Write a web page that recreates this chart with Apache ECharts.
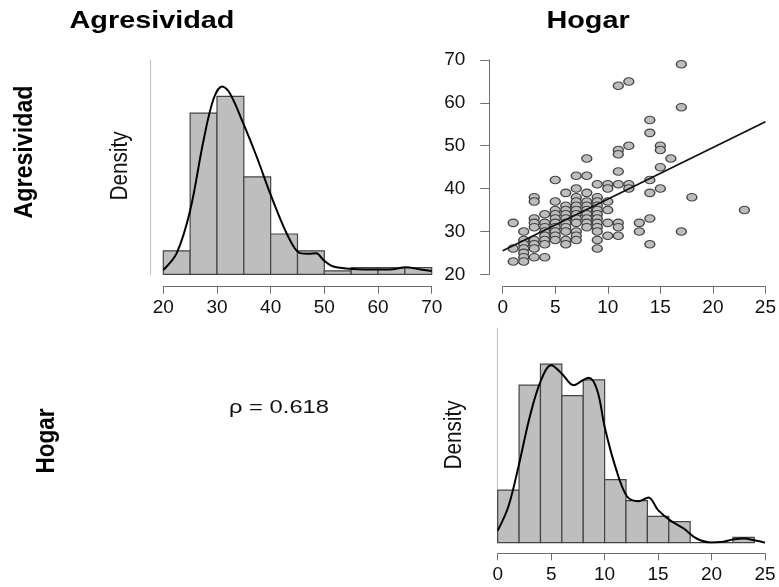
<!DOCTYPE html>
<html>
<head>
<meta charset="utf-8">
<script src="https://cdn.jsdelivr.net/npm/echarts@6/dist/echarts.min.js"></script>
<style>
html,body{margin:0;padding:0;background:#fff;}
#chart{width:779px;height:587px;}
</style>
</head>
<body>
<div id="chart"></div>
<script>
// ---------- DATA ----------
// Agresividad histogram (bin edges, counts)
const agrBinEdges = [20, 25, 30, 35, 40, 45, 50, 55, 60, 65, 70];
const agrCounts = [7, 48, 53, 29, 12, 7, 1, 2, 2, 2];
// Agresividad density curve (scaled to histogram count units)
const agrCurveX = [20, 22.5, 25, 27.5, 29.4, 31, 32.4, 34.9, 37.4, 39.9, 42.4, 44.3, 45.5, 47, 48.5, 49.8, 51.7, 55.2, 60.2, 62.7, 65.2, 67.7, 70];
const agrCurveY = [1.3, 6.3, 19.0, 39.9, 52.4, 55.9, 53.9, 44.9, 35.0, 24.1, 14.2, 8.2, 6.3, 6.1, 6.3, 4.3, 2.3, 1.6, 1.4, 1.5, 2.1, 1.5, 1.0];

// Hogar histogram
const hogBinEdges = [0, 2, 4, 6, 8, 10, 12, 14, 16, 18, 20, 22, 24];
const hogCounts = [10, 30, 34, 28, 31, 12, 8, 5, 4, 0, 0, 1];
// Hogar density curve (scaled to histogram count units)
const hogCurveX = [0, 1, 2, 3, 4, 5, 6, 7.1, 8, 8.5, 9.3, 10, 11, 12.1, 13.2, 14.1, 15, 16.1, 17.4, 18.6, 19.9, 21.1, 22, 23, 24.1, 25];
const hogCurveY = [2.3, 6.9, 15.0, 24.0, 30.7, 33.8, 32.2, 30.0, 31.0, 31.4, 29.1, 22.1, 14.5, 8.8, 7.9, 8.6, 6.2, 4.3, 2.7, 0.8, 0.05, 0.2, 0.6, 0.8, 0.4, 0.0];

// Scatter: Hogar (x) vs Agresividad (y)
const hogarX = [
  1,1,1,
  2,2,2,2,2,2,2,
  3,3,3,3,3,3,3,3,3,
  4,4,4,4,4,4,4,4,
  5,5,5,5,5,5,5,5,5,5,
  6,6,6,6,6,6,6,6,6,6,
  7,7,7,7,7,7,7,7,7,7,7,7,
  8,8,8,8,8,8,8,8,8,8,
  9,9,9,9,9,9,9,9,9,9,9,9,
  10,10,10,10,10,10,
  11,11,11,11,11,11,11,11,
  12,12,12,12,
  13,13,
  14,14,14,14,14,14,
  15,15,15,15,
  16,
  17,17,17,
  18,
  23
];
const agresY = [
  32,26,23,
  30,28,27,26,25,24,23,
  38,37,33,32,31,28,27,26,24,
  34,32,31,30,29,28,27,24,
  42,37,35,34,33,32,31,30,29,28,
  39,36,35,34,33,32,31,30,28,27,
  43,40,38,37,36,35,34,33,32,30,29,28,
  47,43,39,37,36,35,34,33,32,31,
  41,38,37,36,35,34,33,32,31,30,28,26,
  41,40,37,35,32,29,
  64,49,48,44,41,32,31,29,
  65,50,41,40,
  32,30,
  56,53,42,39,33,27,
  50,49,45,40,
  47,
  69,59,30,
  38,
  35
];
// Regression line endpoints
const regX = [0, 25];
const regY = [25.5, 55.6];

const rhoLabel = 'ρ = 0.618';
const varNames = ['Agresividad', 'Hogar'];

// ---------- CHART ----------
const chart = echarts.init(document.getElementById('chart'), null, {renderer: 'canvas'});

function binData(edges, counts) {
  return counts.map((c, i) => [edges[i], edges[i + 1], c]);
}
function zip(a, b) { return a.map((v, i) => [v, b[i]]); }

const barStyle = {fill: '#bebebe', stroke: '#444', lineWidth: 1.2};
function histRender(params, api) {
  const p0 = api.coord([api.value(0), api.value(2)]);
  const p1 = api.coord([api.value(1), 0]);
  return {
    type: 'rect',
    shape: {x: p0[0], y: p0[1], width: p1[0] - p0[0], height: p1[1] - p0[1]},
    style: barStyle
  };
}

const tickFont = {fontFamily: 'Liberation Sans', fontSize: 19, color: '#111'};
const axisGray = '#6e6e6e';

function xAxisDef(gi, min, max, interval, offset) {
  return {
    gridIndex: gi, type: 'value', min: min, max: max, interval: interval,
    offset: offset,
    axisLine: {show: true, onZero: false, lineStyle: {color: axisGray, width: 1}},
    axisTick: {show: true, length: 7, lineStyle: {color: axisGray, width: 1}},
    axisLabel: Object.assign({margin: 12}, tickFont),
    splitLine: {show: false}
  };
}
function densityYAxis(gi, max, offset) {
  return {
    gridIndex: gi, type: 'value', min: 0, max: max, offset: offset,
    axisLine: {show: true, lineStyle: {color: '#c4c4c4', width: 1.2}},
    axisTick: {show: false}, axisLabel: {show: false}, splitLine: {show: false}
  };
}

const option = {
  animation: false,
  backgroundColor: '#fff',
  grid: [
    {left: 163.3, top: 60, width: 268.4, height: 214.3},
    {left: 502.7, top: 60, width: 263, height: 214.3},
    {left: 497.7, top: 328, width: 267.3, height: 214.7}
  ],
  xAxis: [
    xAxisDef(0, 20, 70, 10, 12.4),
    xAxisDef(1, 0, 25, 5, 12.4),
    xAxisDef(2, 0, 25, 5, 10.6)
  ],
  yAxis: [
    densityYAxis(0, 63.8, 13.3),
    {
      gridIndex: 1, type: 'value', min: 20, max: 70, interval: 10, offset: 13.4,
      axisLine: {show: true, onZero: false, lineStyle: {color: axisGray, width: 1}},
      axisTick: {show: true, length: 9, lineStyle: {color: axisGray, width: 1}},
      axisLabel: Object.assign({margin: 24}, tickFont),
      splitLine: {show: false}
    },
    densityYAxis(2, 40.9, 13.7)
  ],
  series: [
    {
      type: 'custom', xAxisIndex: 0, yAxisIndex: 0,
      renderItem: histRender, encode: {x: [0, 1], y: 2},
      data: binData(agrBinEdges, agrCounts), silent: true
    },
    {
      type: 'line', xAxisIndex: 0, yAxisIndex: 0, smooth: 0.35,
      showSymbol: false, symbol: 'none',
      lineStyle: {color: '#000', width: 2},
      data: zip(agrCurveX, agrCurveY), silent: true
    },
    {
      type: 'scatter', xAxisIndex: 1, yAxisIndex: 1,
      symbol: 'circle', symbolSize: [10, 7.5],
      itemStyle: {color: '#bdbdbd', borderColor: '#444', borderWidth: 1.2, opacity: 1},
      data: zip(hogarX, agresY), silent: true
    },
    {
      type: 'line', xAxisIndex: 1, yAxisIndex: 1,
      showSymbol: false, symbol: 'none',
      lineStyle: {color: '#111', width: 1.8},
      data: zip(regX, regY), silent: true, z: 5
    },
    {
      type: 'custom', xAxisIndex: 2, yAxisIndex: 2,
      renderItem: histRender, encode: {x: [0, 1], y: 2},
      data: binData(hogBinEdges, hogCounts), silent: true
    },
    {
      type: 'line', xAxisIndex: 2, yAxisIndex: 2, smooth: 0.35,
      showSymbol: false, symbol: 'none',
      lineStyle: {color: '#000', width: 2},
      data: zip(hogCurveX, hogCurveY), silent: true
    }
  ],
  graphic: [
    {type: 'text', x: 152, y: 21, scaleX: 1.2,
     style: {text: varNames[0], font: 'bold 24px "Liberation Sans"', fill: '#000', align: 'center', verticalAlign: 'middle'}},
    {type: 'text', x: 588, y: 21, scaleX: 1.2,
     style: {text: varNames[1], font: 'bold 24px "Liberation Sans"', fill: '#000', align: 'center', verticalAlign: 'middle'}},
    {type: 'text', x: 25, y: 152, rotation: Math.PI / 2, scaleX: 0.93,
     style: {text: varNames[0], font: 'bold 25px "Liberation Sans"', fill: '#000', align: 'center', verticalAlign: 'middle'}},
    {type: 'text', x: 47, y: 441, rotation: Math.PI / 2, scaleX: 0.9,
     style: {text: varNames[1], font: 'bold 25px "Liberation Sans"', fill: '#000', align: 'center', verticalAlign: 'middle'}},
    {type: 'text', x: 121, y: 166, rotation: Math.PI / 2, scaleX: 0.9,
     style: {text: 'Density', font: '23px "Liberation Sans"', fill: '#111', align: 'center', verticalAlign: 'middle'}},
    {type: 'text', x: 455, y: 435, rotation: Math.PI / 2, scaleX: 0.9,
     style: {text: 'Density', font: '23px "Liberation Sans"', fill: '#111', align: 'center', verticalAlign: 'middle'}},
    {type: 'text', x: 279, y: 408, scaleX: 1.25,
     style: {text: rhoLabel, font: '19px "Liberation Sans"', fill: '#111', align: 'center', verticalAlign: 'middle'}}
  ]
};
chart.setOption(option);
</script>
</body>
</html>
